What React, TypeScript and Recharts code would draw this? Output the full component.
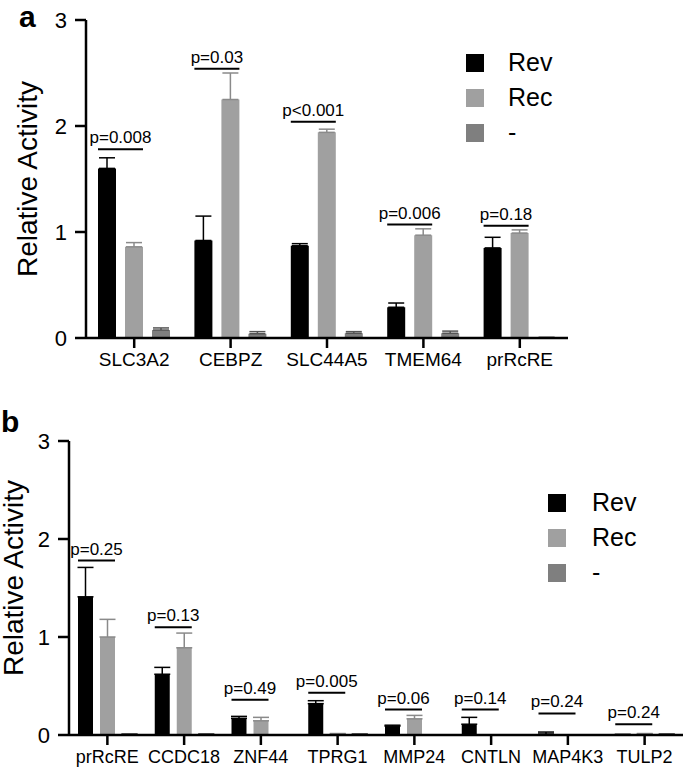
import React from "react";
import {
  Bar,
  ComposedChart,
  ErrorBar,
  LabelList,
  XAxis,
  YAxis,
} from "recharts";

const FONT = "'Liberation Sans', Arial, Helvetica, sans-serif";

// panel a
const genesA = ["SLC3A2", "CEBPZ", "SLC44A5", "TMEM64", "prRcRE"];
const revA = [1.6, 0.92, 0.87, 0.29, 0.85];
const revErrA = [0.1, 0.23, 0.02, 0.04, 0.1];
const recA = [0.86, 2.25, 1.94, 0.97, 0.99];
const recErrA = [0.04, 0.25, 0.03, 0.06, 0.03];
const negA = [0.075, 0.04, 0.045, 0.045, 0.005];
const negErrA = [0.02, 0.02, 0.015, 0.02, 0];
const pTextA = ["p=0.008", "p=0.03", "p<0.001", "p=0.006", "p=0.18"];
const pLevelA = [1.78, 2.54, 2.04, 1.07, 1.06];

// panel b
const genesB = ["prRcRE", "CCDC18", "ZNF44", "TPRG1", "MMP24", "CNTLN", "MAP4K3", "TULP2"];
const revB = [1.41, 0.62, 0.17, 0.32, 0.09, 0.11, 0.01, 0.005];
const revErrB = [0.3, 0.07, 0.02, 0.03, 0.01, 0.07, 0.02, 0];
const recB = [1.0, 0.89, 0.145, 0.01, 0.165, 0, 0, 0.01];
const recErrB = [0.18, 0.15, 0.035, 0.005, 0.035, 0, 0, 0.005];
const negB = [0.01, 0.01, 0, 0.01, 0, 0, 0, 0.01];
const negErrB = [0, 0, 0, 0, 0, 0, 0, 0];
const pTextB = ["p=0.25", "p=0.13", "p=0.49", "p=0.005", "p=0.06", "p=0.14", "p=0.24", "p=0.24"];
const pLevelB = [1.78, 1.1, 0.36, 0.43, 0.26, 0.26, 0.22, 0.11];

const yTicks = [0, 1, 2, 3];

const seriesNames = ["Rev", "Rec", "-"];
const seriesColors = ["#000000", "#a0a0a0", "#7f7f7f"];

function buildRows(
  genes: string[],
  rev: number[],
  revErr: number[],
  rec: number[],
  recErr: number[],
  neg: number[],
  negErr: number[]
) {
  return genes.map((g, i) => ({
    gene: g,
    rev: rev[i],
    rec: rec[i],
    neg: neg[i],
    revErr: [0, revErr[i]],
    recErr: [0, recErr[i]],
    negErr: [0, negErr[i]],
  }));
}

function LegendBox({ left, top, gap }: { left: number; top: number; gap: number }) {
  return (
    <div style={{ position: "absolute", left, top, fontFamily: FONT }}>
      {seriesNames.map((name, i) => (
        <div
          key={name}
          style={{ display: "flex", alignItems: "center", height: 35 }}
        >
          <span style={{ width: 18, height: 18, background: seriesColors[i] }} />
          <span style={{ marginLeft: gap, fontSize: 25, color: "#000" }}>
            {name}
          </span>
        </div>
      ))}
    </div>
  );
}

interface PanelProps {
  rows: any[];
  pText: string[];
  pLevel: number[];
  width: number;
  height: number;
  margin: { top: number; right: number; bottom: number; left: number };
  yAxisWidth: number;
  barSize: number;
  barGap: number;
  tickFont: number;
  titleX: number;
  titleShift: number;
}

function Panel(props: PanelProps) {
  const { rows, pText, pLevel, barGap } = props;

  // bracket + p-value drawn from the Rev bar geometry
  const bracket = (lp: any) => {
    const x = Number(lp.x);
    const y = Number(lp.y);
    const w = Number(lp.width);
    const h = Number(lp.height);
    const v = Number(lp.value);
    const i = lp.index;
    if (!v || i == null) return null;
    const base = y + h;
    const by = base - (pLevel[i] * h) / v;
    const x2 = x + 2 * w + barGap;
    return (
      <g key={`br-${i}`}>
        <line x1={x} x2={x2} y1={by} y2={by} stroke="#000" strokeWidth={2} />
        <text
          x={(x + x2) / 2}
          y={by - 6}
          textAnchor="middle"
          fontSize={17}
          fontFamily={FONT}
          fill="#000"
        >
          {pText[i]}
        </text>
      </g>
    );
  };

  return (
    <ComposedChart
      width={props.width}
      height={props.height}
      data={rows}
      margin={props.margin}
      barGap={barGap}
      barSize={props.barSize}
    >
      <XAxis
        dataKey="gene"
        axisLine={{ stroke: "#000", strokeWidth: 2.5 }}
        tickLine={{ stroke: "#000", strokeWidth: 2.5 }}
        tickSize={10}
        tickMargin={5}
        height={36}
        interval={0}
        tick={{ fontSize: props.tickFont, fill: "#000", fontFamily: FONT }}
      />
      <YAxis
        domain={[0, 3]}
        ticks={yTicks}
        width={props.yAxisWidth}
        axisLine={{ stroke: "#000", strokeWidth: 2.5 }}
        tickLine={{ stroke: "#000", strokeWidth: 2.5 }}
        tickSize={11}
        tickMargin={8}
        tick={{ fontSize: 22, fill: "#000", fontFamily: FONT }}
        label={{
          position: "center",
          content: ({ viewBox }: any) => {
            const cy = viewBox.y + viewBox.height / 2 + props.titleShift;
            return (
              <text
                x={props.titleX}
                y={cy}
                transform={`rotate(-90, ${props.titleX}, ${cy})`}
                textAnchor="middle"
                fontSize={28}
                fontFamily={FONT}
                fill="#000"
              >
                Relative Activity
              </text>
            );
          },
        }}
      />
      <Bar dataKey="rev" name={seriesNames[0]} fill={seriesColors[0]} isAnimationActive={false}>
        <ErrorBar dataKey="revErr" width={8} stroke="#000" strokeWidth={1.5} />
        <LabelList dataKey="rev" content={bracket} />
      </Bar>
      <Bar dataKey="rec" name={seriesNames[1]} fill={seriesColors[1]} isAnimationActive={false}>
        <ErrorBar dataKey="recErr" width={8} stroke="#8a8a8a" strokeWidth={1.5} />
      </Bar>
      <Bar dataKey="neg" name={seriesNames[2]} fill={seriesColors[2]} isAnimationActive={false}>
        <ErrorBar dataKey="negErr" width={8} stroke="#555" strokeWidth={1.5} />
      </Bar>
    </ComposedChart>
  );
}

const letterStyle: React.CSSProperties = {
  position: "absolute",
  fontFamily: FONT,
  fontWeight: "bold",
  fontSize: 30,
  lineHeight: "30px",
};

export default function App() {
  const rowsA = buildRows(genesA, revA, revErrA, recA, recErrA, negA, negErrA);
  const rowsB = buildRows(genesB, revB, revErrB, recB, recErrB, negB, negErrB);

  return (
    <div
      style={{
        position: "absolute",
        left: 0,
        top: 0,
        width: 685,
        height: 771,
        background: "#fff",
      }}
    >
      <div style={{ position: "absolute", left: 0, top: 0 }}>
        <Panel
          rows={rowsA}
          pText={pTextA}
          pLevel={pLevelA}
          width={685}
          height={380}
          margin={{ top: 20, right: 117, bottom: 6, left: 16 }}
          yAxisWidth={70}
          barSize={18}
          barGap={9}
          tickFont={19}
          titleX={37}
          titleShift={0}
        />
        <LegendBox left={466} top={45} gap={24} />
      </div>
      <div style={{ position: "absolute", left: 0, top: 380 }}>
        <Panel
          rows={rowsB}
          pText={pTextB}
          pLevel={pLevelB}
          width={685}
          height={391}
          margin={{ top: 61, right: 2, bottom: 0, left: 9 }}
          yAxisWidth={60}
          barSize={15}
          barGap={7}
          tickFont={18}
          titleX={23}
          titleShift={-10}
        />
        <LegendBox left={548} top={105} gap={26} />
      </div>
      <div style={{ ...letterStyle, left: 19, top: 2 }}>a</div>
      <div style={{ ...letterStyle, left: 1, top: 407 }}>b</div>
    </div>
  );
}
